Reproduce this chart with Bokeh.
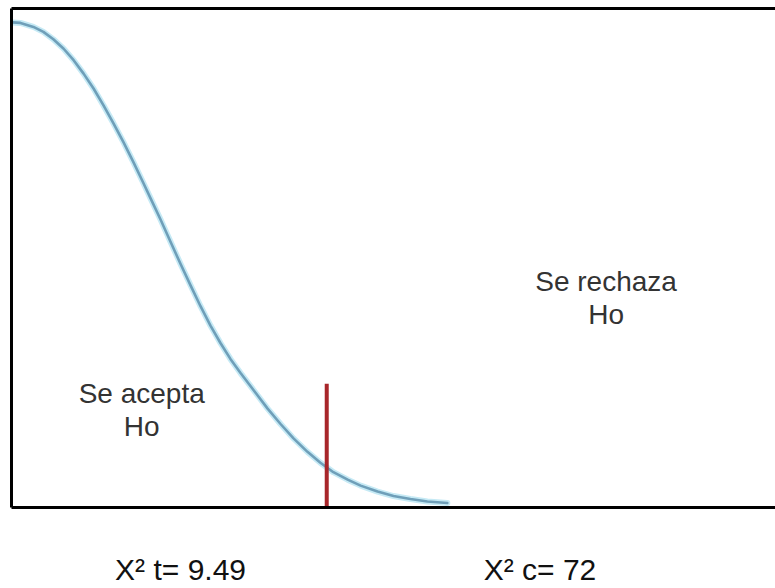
from bokeh.plotting import figure
from bokeh.models import Range1d, LinearAxis, FixedTicker, Label
from bokeh.embed import file_html
from bokeh.resources import INLINE

# Curve (x in chi-square units, y relative density)
curve_x = [0.03, 0.27, 0.66, 0.96, 1.26, 1.57, 1.87, 2.17, 2.47, 2.77, 3.07, 3.37,
           3.67, 3.97, 4.18, 4.49, 4.79, 5.09, 5.39, 5.69, 5.99, 6.29, 6.59, 6.89,
           7.29, 7.71, 8.10, 8.49, 8.91, 9.30, 9.69, 10.12, 10.51, 11.02, 11.50,
           12.01, 12.52, 13.12]
curve_y = [0.976, 0.975, 0.967, 0.957, 0.942, 0.923, 0.900, 0.873, 0.843, 0.809, 0.773, 0.735,
           0.695, 0.653, 0.623, 0.579, 0.534, 0.490, 0.447, 0.405, 0.366, 0.331, 0.299, 0.271,
           0.236, 0.199, 0.168, 0.139, 0.112, 0.090, 0.071, 0.056, 0.044, 0.032, 0.023,
           0.017, 0.012, 0.009]

critical_value = 9.49
critical_height = 0.249
calc_value = 72

region_labels = ["Se acepta", "Ho", "Se rechaza", "Ho"]
bottom_labels = ["X\u00b2 t= 9.49", "X\u00b2 c= 72"]

FONT = "Liberation Sans"

p = figure(width=775, height=588, output_backend="svg", toolbar_location=None,
           x_range=Range1d(0, 23.0), y_range=Range1d(0, 1.004),
           x_axis_location=None, y_axis_location=None,
           min_border_left=11, min_border_right=0, min_border_top=8, min_border_bottom=80)
p.grid.visible = False
p.outline_line_color = None
p.background_fill_color = "white"
p.border_fill_color = "white"

for loc in ["left", "above"]:
    ax = LinearAxis(ticker=FixedTicker(ticks=[]))
    ax.axis_line_color = "black"
    ax.axis_line_width = 3
    ax.major_tick_line_color = None
    ax.minor_tick_line_color = None
    ax.major_tick_out = 0
    ax.major_tick_in = 0
    ax.minor_tick_out = 0
    ax.major_label_text_font_size = "0px"
    p.add_layout(ax, loc)

# bottom axis carries the two statistic labels
label_pos = [5.09, 15.91]
bx = LinearAxis(ticker=FixedTicker(ticks=label_pos))
bx.major_label_overrides = {label_pos[0]: bottom_labels[0], label_pos[1]: bottom_labels[1]}
bx.axis_line_color = "black"
bx.axis_line_width = 3
bx.major_tick_line_color = None
bx.minor_tick_line_color = None
bx.major_tick_out = 0
bx.major_tick_in = 0
bx.minor_tick_out = 0
bx.major_label_standoff = 45
bx.major_label_text_font = FONT
bx.major_label_text_font_size = "30px"
bx.major_label_text_color = "#111111"
p.add_layout(bx, "below")

# curve with light halo
p.line(curve_x, curve_y, line_color="#c6eaf5", line_width=6, line_join="round", line_cap="round")
p.line(curve_x, curve_y, line_color="#6f9fb9", line_width=2.6, line_join="round", line_cap="round")

# critical value line
p.segment(x0=[critical_value], y0=[0], x1=[critical_value], y1=[critical_height],
          line_color="#a8262a", line_width=4)

text_pos = [(3.92, 0.229), (3.92, 0.163), (17.90, 0.454), (17.90, 0.388)]
for t, (x, y) in zip(region_labels, text_pos):
    p.add_layout(Label(x=x, y=y, text=t, text_align="center", text_baseline="alphabetic",
                       text_font=FONT, text_font_size="28px", text_color="#333333"))

open("out.html", "w").write(file_html(p, INLINE))
